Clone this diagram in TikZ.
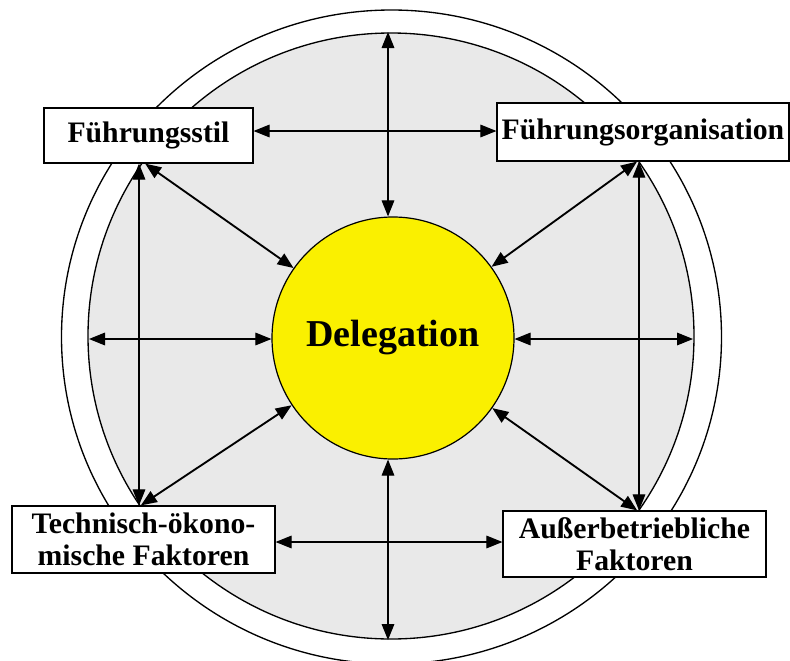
\documentclass[tikz,border=0pt]{standalone}
\usepackage{fontspec}
\setmainfont{Liberation Serif}
\usetikzlibrary{arrows.meta,calc}
\definecolor{ringgray}{RGB}{233,233,233}
\definecolor{delegyellow}{RGB}{250,240,0}

\begin{document}
\begin{tikzpicture}[
  x=0.75pt, y=-0.75pt,
  factor/.style={rectangle, draw, fill=white, line width=0.9pt, inner sep=0pt,
                 font=\fontsize{22.3}{24}\selectfont\bfseries, align=center},
  hub/.style={circle, draw, fill=delegyellow, line width=0.9pt, inner sep=0pt,
              minimum size=181.5pt, font=\fontsize{28.5}{30}\selectfont\bfseries},
  link/.style={{Triangle[length=12pt,width=9.5pt]}-{Triangle[length=12pt,width=9.5pt]},
               line width=0.85pt},
  spoke/.style={link, line width=1.4pt},
]
  \useasboundingbox (0,0) rectangle (790,661);
  \draw[line width=1pt, fill=white] (391.5,337) ellipse [x radius=247.5pt, y radius=245.25pt];
  \draw[line width=1pt, fill=ringgray] (391,336) circle [radius=227.25pt];

  \node[factor, minimum width=156.75pt, minimum height=41.25pt] (stil)
    at (148.5,135.5) {Führungsstil};
  \node[factor, minimum width=219pt, minimum height=43.5pt] (orga)
    at (643,132) {Führungsorganisation};
  \node[factor, minimum width=197.25pt, minimum height=50.25pt] (tech)
    at (143.5,539.5) {Technisch-ökono-\\mische Faktoren};
  \node[factor, minimum width=197.25pt, minimum height=49.5pt] (extern)
    at (634.5,544) {Außerbetriebliche\\Faktoren};
  \node[hub] (deleg) at (393,338) {Delegation};

  \coordinate (ringN) at (388,32);
  \coordinate (ringS) at (388,640);
  \coordinate (ringW) at (89,339);
  \coordinate (ringE) at (693,339);
  \coordinate (topy) at (0,131);
  \coordinate (boty) at (0,542);
  \coordinate (lx) at (139,0);
  \coordinate (rx) at (639,0);

  \draw[link] (ringN) -- (ringN |- deleg.north);
  \draw[link] (ringS |- deleg.south) -- (ringS);
  \draw[link] (ringW) -- (ringW -| deleg.west);
  \draw[link] (ringE -| deleg.east) -- (ringE);
  \draw[link] (stil.east |- topy) -- (orga.west |- topy);
  \draw[link] (tech.east |- boty) -- (extern.west |- boty);
  \draw[link] (lx |- stil.south) -- (lx |- tech.north);
  \draw[link] (rx |- orga.south) -- (rx |- extern.north);

  \draw[spoke] ([xshift=-2.5pt]stil.south) -- (deleg);
  \draw[spoke] ([xshift=-4.5pt]orga.south) -- (deleg);
  \draw[spoke] ([xshift=-2pt]tech.north) -- (deleg);
  \draw[spoke] ([xshift=2pt]extern.north) -- (deleg);
\end{tikzpicture}
\end{document}
